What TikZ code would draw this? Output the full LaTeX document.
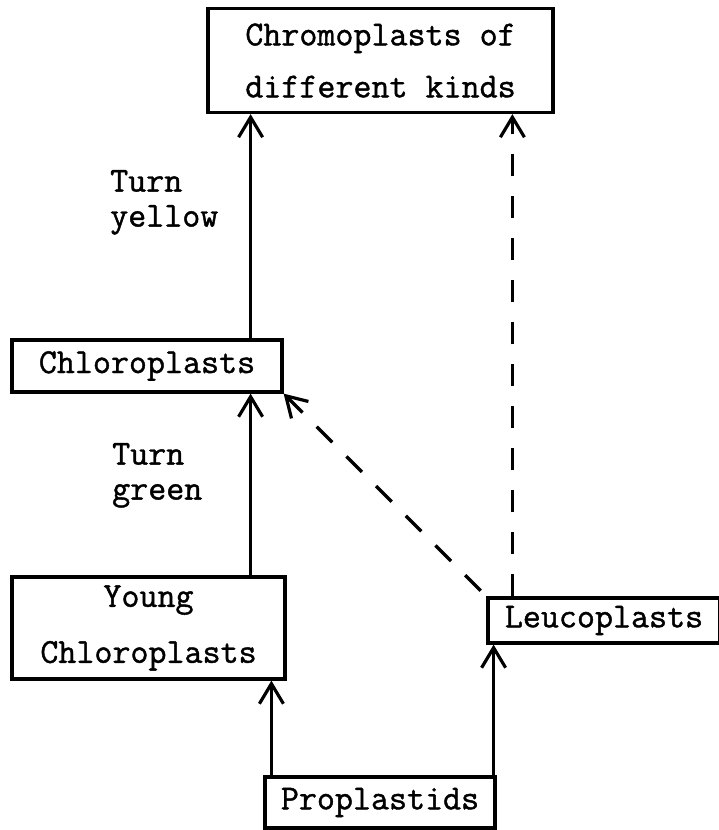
\documentclass[tikz,border=0pt]{standalone}
\usepackage{fontspec}
\usetikzlibrary{arrows.meta}
\newfontfamily\typewriter{Latin Modern Mono}[FakeBold=1.2]

\begin{document}
\begin{tikzpicture}[x=1pt,y=-1pt]
            \tikzstyle{every node} = [font=\typewriter\fontsize{35}{35}\selectfont]
            \tikzstyle{plastid} = [draw, line width=3.2pt, inner sep=0pt, align=center]
            \tikzstyle{becomes} = [line width=3.2pt, -{Straight Barb[length=20pt,width=24pt]}]
            \tikzstyle{maybebecomes} = [becomes, dash pattern=on 22pt off 20pt]
            \useasboundingbox (0,0) rectangle (719,830);
            % the plastid boxes
            \node[plastid, minimum width=345pt, minimum height=104pt,
                font=\typewriter\fontsize{35}{52}\selectfont] (chromo) at (380.5,60.5)
                {Chromoplasts of\\different kinds};
            \node[plastid, minimum width=270pt, minimum height=52pt] (chloro) at (147,366) {Chloroplasts};
            \node[plastid, minimum width=273pt, minimum height=102pt,
                font=\typewriter\fontsize{35}{56}\selectfont] (young) at (148.5,628)
                {Young\\Chloroplasts};
            \node[plastid, minimum width=232pt, minimum height=45pt] (leuco) at (604,620.5) {Leucoplasts};
            \node[plastid, minimum width=230pt, minimum height=51pt] (proplast) at (380,802.5) {Proplastids};
            % the labels
            \node[anchor=north west, inner sep=0pt, align=left] (yellow) at (110,170) {Turn\\yellow};
            \node[anchor=north west, inner sep=0pt, align=left] (green) at (112,443) {Turn\\green};
            % the arrows
            \coordinate (c1) at ([xshift=-33pt]chloro.north east);
            \coordinate (c2) at ([xshift=-36pt]young.north east);
            \coordinate (c3) at ([xshift=26pt]leuco.north west);
            \coordinate (c4) at ([xshift=8pt]proplast.north west);
            \coordinate (c5) at ([xshift=-3pt]proplast.north east);
            \draw[becomes] (c1) -- (c1 |- chromo.south);
            \draw[becomes] (c2) -- (c2 |- chloro.south);
            \draw[becomes] (c4) -- (c4 |- young.south);
            \draw[becomes] (c5) -- (c5 |- leuco.south);
            \draw[maybebecomes] (c3) -- (c3 |- chromo.south);
            \draw[maybebecomes, shorten <=8pt] (leuco.north west) -- (chloro.south east);
\end{tikzpicture}
\end{document}
